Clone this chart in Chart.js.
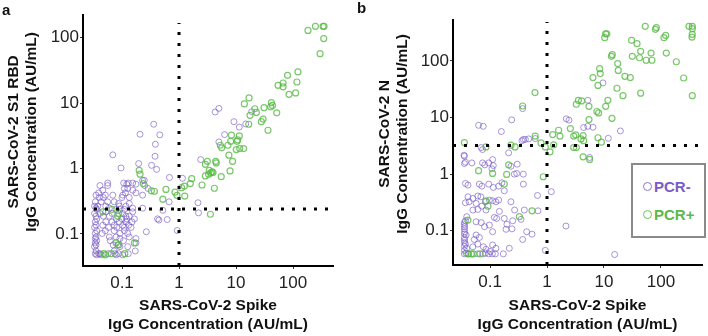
<!DOCTYPE html>
<html>
<head>
<meta charset="utf-8">
<script src="https://cdn.jsdelivr.net/npm/chart.js@4"></script>
<style>
  body { margin: 0; background: #fff; font-family: "Liberation Sans", Arial, sans-serif; }
  #wrap { position: relative; width: 708px; height: 336px; }
  .panel { position: absolute; top: 0; width: 354px; height: 336px; }
  .tag { position: absolute; font-weight: bold; font-size: 15px; line-height: 15px; color: #111; }
  #legend { position: absolute; left: 631px; top: 163px; width: 75px; height: 75px; box-sizing: border-box;
            border: 2px solid #8a8a8a; background: #fff; }
  .item { position: absolute; left: 10px; font-weight: bold; font-size: 15px; line-height: 16px; }
  .dot { display: inline-block; width: 7px; height: 7px; border-radius: 50%; border: 1.3px solid; margin-right: 2px; vertical-align: 1px; }
</style>
</head>
<body>
<div id="wrap">
  <div class="panel" style="left:0"><canvas id="chartA"></canvas></div>
  <div class="panel" style="left:354px"><canvas id="chartB"></canvas></div>
  <div class="tag" style="left:2px; top:2px">a</div>
  <div class="tag" style="left:357px; top:0px">b</div>
  <div id="legend">
    <div class="item" style="top:14px; color:#7a5cc6"><span class="dot" style="border-color:#8f78cf"></span>PCR-</div>
    <div class="item" style="top:42px; color:#5cb94a"><span class="dot" style="border-color:#6cc45a"></span>PCR+</div>
  </div>
</div>
<script>
Chart.defaults.font.family = '"Liberation Sans", Arial, sans-serif';
Chart.defaults.color = '#222';

var tickVals = [0.1, 1, 10, 100];

// panel a: Spike (x) vs S1 RBD (y)
var aNeg = [
  [4.3,7.3],[5.0,8.3],[18.8,7.4],[9.2,5.2],[11.4,4.3],[14.8,4.8],[6.3,3.3],[5.0,2.55],[2.4,1.37],[1.15,0.71],[2.15,0.30],[2.2,0.21],[0.93,0.113],
  [0.67,0.31],[0.52,0.23],[0.445,0.163],[0.62,0.166],[0.267,0.108],
  [0.36,4.75],[0.207,3.34],[0.46,3.27],[0.385,2.35],[0.069,1.62],[0.38,1.54],[0.196,1.19],[0.33,1.12],[0.096,1.02],[0.405,0.97],[0.68,0.73],
  [0.23,0.66],[0.246,0.66],[0.056,0.60],[0.107,0.60],[0.129,0.60],[0.154,0.60],[0.121,0.577],[0.176,0.577],
  [0.041,0.55],[0.056,0.55],[0.25,0.55],[0.11,0.495],[0.126,0.495],[0.286,0.495],[0.046,0.467],[0.154,0.467],
  [0.039,0.425],[0.115,0.425],[0.176,0.425],[0.035,0.392],[0.051,0.392],[0.069,0.392],[0.103,0.392],[0.23,0.392],
  [0.04,0.361],[0.047,0.361],[0.1,0.361],[0.134,0.361],[0.034,0.31],[0.043,0.31],[0.056,0.31],[0.073,0.31],
  [0.087,0.292],[0.134,0.292],[0.033,0.266],[0.0375,0.266],[0.052,0.266],[0.09,0.266],[0.117,0.266],
  [0.035,0.248],[0.06,0.248],[0.154,0.248],[0.23,0.248],[0.036,0.237],[0.079,0.237],[0.092,0.237],[0.11,0.237],
  [0.052,0.218],[0.154,0.218],[0.033,0.206],[0.041,0.206],[0.067,0.206],[0.103,0.206],
  [0.035,0.187],[0.047,0.187],[0.06,0.187],[0.117,0.187],[0.134,0.187],
  [0.036,0.17],[0.079,0.17],[0.1,0.17],[0.121,0.17],[0.165,0.17],[0.42,0.17],
  [0.034,0.153],[0.052,0.153],[0.067,0.153],[0.09,0.153],[0.117,0.153],[0.15,0.153],
  [0.035,0.136],[0.046,0.136],[0.073,0.136],[0.103,0.136],[0.131,0.136],
  [0.033,0.126],[0.058,0.126],[0.081,0.126],[0.11,0.126],[0.144,0.126],
  [0.036,0.112],[0.051,0.112],[0.073,0.112],[0.11,0.112],[0.034,0.102],[0.045,0.102],[0.092,0.102],[0.126,0.102],
  [0.035,0.09],[0.06,0.09],[0.079,0.09],[0.134,0.09],[0.034,0.085],[0.092,0.085],[0.176,0.085],
  [0.036,0.079],[0.062,0.079],[0.106,0.079],[0.034,0.073],[0.176,0.073],[0.035,0.068],[0.07,0.068],[0.084,0.068],
  [0.033,0.064],[0.092,0.064],[0.126,0.064],[0.035,0.055],[0.073,0.055],[0.171,0.055],
  [0.034,0.05],[0.039,0.05],[0.041,0.05],[0.057,0.05],[0.075,0.05],[0.087,0.05],[0.129,0.05],
  [0.036,0.048],[0.043,0.048],[0.079,0.048],[0.103,0.048]
];
var aPos = [
  [183,129],[247,149],[336,149],[350,149],[345,97],[298,57],[122,30],[80,26.6],[54.6,18.7],[66.8,20.3],[66.8,17.7],[117,21],
  [85,13.6],[111,14.3],[16.9,12],[14,9.7],[21.3,8.2],[22.7,7.2],[17.6,6.5],[31,8.5],[41.7,10.2],[43.4,9.2],[40.5,8.8],[51.7,7.1],
  [27.8,5.2],[29.8,5.7],[36.4,3.85],[16.7,4.75],[8.3,3.23],[11.4,3.15],[8.06,2.61],[10.4,2.61],[10.7,2.74],[5.3,2.27],[5.6,2.07],
  [7.2,2.27],[11.6,2.02],[13.6,2.02],[10.1,1.95],[7.5,1.6],[8.7,1.29],[7.85,0.92],[3.14,1.29],[4.4,1.29],[4.5,1.22],[2.9,1.16],
  [3.4,0.94],[3.8,0.89],[3.95,0.87],[3.64,0.86],[2.9,0.77],[3.3,0.82],[5.5,0.75],[4.17,0.5],[2.53,0.56],[1.67,0.7],[1.58,0.59],
  [1.24,0.54],[1.11,0.51],[0.85,0.435],[0.92,0.39],[1.26,0.38],[3.55,0.2],
  [0.2,0.94],[0.207,0.82],[0.327,0.456],[0.37,0.45],[0.59,0.48],[0.52,0.34],[0.236,0.59],
  [0.067,0.237],[0.046,0.218],[0.0875,0.206],[0.084,0.187],[0.079,0.073],[0.165,0.073],[0.0875,0.068],
  [0.048,0.05],[0.065,0.05],[0.112,0.05],[0.051,0.048]
];
var aCutX = 1, aCutY = 0.24;

// panel b: Spike (x) vs N (y)
var bNeg = [
  [9.6,41],[2.18,9.5],[2.43,9.0],[4.4,6.67],[5.2,7.0],[6.4,6.75],[19.4,5.8],[11.9,4.3],[5.6,1.97],[5.2,20.2],
  [0.374,14.4],[0.24,9.1],[0.063,7.3],[0.076,7.0],[0.158,5.66],[0.62,4.26],[0.385,4.1],[0.417,4.1],[0.364,3.9],[0.477,4.2],
  [0.07,2.95],[0.074,2.72],[0.212,2.38],[0.035,2.16],[2.15,0.121],[15.4,0.038],[1.19,0.49],[0.695,0.225],[0.935,0.045],[0.68,0.42],
  [0.0355,2.08],[0.111,1.81],[0.0355,1.54],[0.037,1.63],[0.048,1.58],[0.074,1.58],[0.095,1.58],[0.081,1.46],[0.114,1.42],
  [0.233,1.38],[0.30,1.5],[0.267,1.0],[0.294,1.03],[0.384,1.0],[0.108,1.24],
  [0.037,0.685],[0.041,0.64],[0.065,0.666],[0.072,0.614],[0.095,0.666],[0.114,0.582],[0.142,0.614],[0.162,0.703],[0.178,0.508],[0.384,0.666],
  [0.041,0.398],[0.05,0.372],[0.061,0.41],[0.069,0.398],[0.083,0.325],[0.0975,0.348],[0.111,0.338],[0.127,0.325],[0.142,0.348],
  [0.043,0.325],[0.037,0.312],[0.057,0.304],[0.072,0.272],[0.233,0.325],[0.27,0.232],[0.40,0.232],[0.146,0.22],[0.05,0.232],[0.061,0.238],[0.085,0.232],
  [0.039,0.177],[0.037,0.15],[0.119,0.172],[0.131,0.165],[0.178,0.165],[0.35,0.159],[0.198,0.13],[0.25,0.15],[0.057,0.144],[0.07,0.139],
  [0.08,0.118],[0.0975,0.126],[0.0358,0.118],[0.0358,0.096],[0.038,0.084],[0.057,0.084],[0.053,0.07],[0.065,0.076],[0.111,0.096],
  [0.191,0.106],[0.243,0.108],[0.44,0.096],[0.546,0.087],[0.374,0.07],
  [0.0358,0.068],[0.037,0.058],[0.039,0.049],[0.05,0.052],[0.061,0.058],[0.0765,0.052],[0.085,0.047],[0.111,0.056],[0.127,0.049],
  [0.218,0.049],[0.171,0.039],[0.038,0.04],[0.083,0.04],[0.1,0.043],[0.124,0.039],
  [0.0355,0.14],[0.0355,0.128],[0.0355,0.108],[0.0355,0.088],[0.0355,0.075],[0.0355,0.062],[0.0355,0.053],[0.0355,0.045],[0.0355,0.039],
  [0.042,0.039],[0.06,0.039],[0.075,0.039],[0.095,0.039],[0.11,0.039]
];
var bPos = [
  [53,409],[83,390],[80,362],[310,409],[355,409],[355,372],[355,296],[350,265],[10.7,302],[11.2,302],[10.3,258],[121,283],[113,258],
  [30.5,232],[38,202],[44,148],[31.4,121],[42,114],[67,138],[124,138],[55,103],[69.5,103],[186,97],[14,129],[13.5,121],[17.4,90],
  [17.8,68],[8.4,73],[8.6,60],[6.4,51],[23.3,53.5],[29,51],[7.85,37],[250,50],[16.9,33],[44,27],[21.5,24.4],[355,24.4],[11.7,20.2],
  [10.7,15.8],[3.55,20.2],[4.05,19.7],[3.27,17.2],[5.45,15.8],[7.5,12.8],[8.05,12.1],[13.8,9.7],[5.45,9.2],[2.57,6.4],[3.18,4.95],
  [2.94,4.7],[4.3,4.8],[3.95,4.2],[4.4,3.9],[7.85,4.4],[9.0,3.67],[2.94,2.95],[3.27,2.95],[4.3,2.02],[5.6,1.82],
  [0.615,27.6],[0.374,16],[0.62,4.7],[1.26,5.0],[1.6,5.97],[1.69,4.7],[0.0355,3.62],[0.085,3.03],[0.233,3.25],[0.275,3.03],
  [0.785,3.57],[0.935,3.03],[1.31,3.3],[1.13,2.48],
  [0.212,1.46],[0.063,1.15],[0.111,1.03],[0.196,0.99],[0.86,0.9],[0.178,0.67],[0.085,0.338],[0.092,0.272],[0.546,0.225],[0.327,0.177],
  [0.041,0.154],[0.041,0.039],[0.047,0.039],[0.051,0.039],[0.067,0.039]
];
var bCutX = 1, bCutY = 3.2;

var purple = 'rgba(115,85,195,0.62)';
var green = 'rgba(85,185,65,0.78)';

function pts(arr) {
  return arr.map(function (p) { return { x: p[0], y: p[1] }; });
}

function dotted(data) {
  return {
    data: data,
    showLine: true,
    borderColor: '#000',
    borderWidth: 3,
    borderDash: [3, 8],
    pointRadius: 0,
    order: 0
  };
}

function makeChart(id, neg, pos, cutX, cutY, lim, box, yTitle) {
  var ctx = document.getElementById(id);
  return new Chart(ctx, {
    type: 'scatter',
    data: {
      datasets: [
        dotted([{ x: cutX, y: lim.ymin }, { x: cutX, y: lim.vTop }]),
        dotted([{ x: lim.xmin, y: cutY }, { x: lim.hEnd, y: cutY }]),
        {
          label: 'PCR+',
          data: pts(pos),
          borderColor: green,
          backgroundColor: 'transparent',
          pointRadius: 3,
          borderWidth: 1.2,
          order: 2
        },
        {
          label: 'PCR-',
          data: pts(neg),
          borderColor: purple,
          backgroundColor: 'transparent',
          pointRadius: 3,
          borderWidth: 1,
          order: 3
        }
      ]
    },
    options: {
      responsive: true,
      maintainAspectRatio: false,
      animation: false,
      layout: {
        padding: { left: 0, right: box.right, top: box.top, bottom: 0 }
      },
      plugins: {
        legend: { display: false },
        tooltip: { enabled: false }
      },
      scales: {
        x: {
          type: 'logarithmic',
          min: lim.xmin,
          max: lim.xmax,
          afterBuildTicks: function (s) { s.ticks = tickVals.map(function (v) { return { value: v }; }); },
          afterFit: function (s) { s.height = box.xh; },
          ticks: {
            font: { size: 17 },
            padding: 4,
            autoSkip: false,
            maxRotation: 0,
            callback: function (v) { return String(v); }
          },
          grid: { display: true, drawOnChartArea: false, tickLength: 3, color: '#333' },
          border: { display: true, color: '#000', width: 2 },
          title: {
            display: true,
            text: ['SARS-CoV-2 Spike', 'IgG Concentration (AU/mL)'],
            font: { size: 15.5, weight: 'bold', lineHeight: 1.2 },
            color: '#111',
            padding: { top: 0, bottom: 2 }
          }
        },
        y: {
          type: 'logarithmic',
          min: lim.ymin,
          max: lim.ymax,
          afterBuildTicks: function (s) { s.ticks = tickVals.map(function (v) { return { value: v }; }); },
          afterFit: function (s) { s.width = box.yw; },
          ticks: {
            font: { size: 17 },
            padding: 1,
            autoSkip: false,
            callback: function (v) { return String(v); }
          },
          grid: { display: true, drawOnChartArea: false, tickLength: 3, color: '#333' },
          border: { display: true, color: '#000', width: 2 },
          title: {
            display: true,
            // leading spaces nudge the rotated title up a little, as in the original
            text: yTitle.map(function (t) { return '    ' + t; }),
            font: { size: 15.5, weight: 'bold', lineHeight: 1.2 },
            color: '#111',
            padding: { top: box.ytp, bottom: 0 }
          }
        }
      }
    }
  });
}

makeChart('chartA', aNeg, aPos, aCutX, aCutY,
  { xmin: 0.0207, xmax: 502, ymin: 0.0324, ymax: 222, vTop: 168, hEnd: 411 },
  { right: 21, top: 15, xh: 70, yw: 83, ytp: 4 },
  ['SARS-CoV-2 S1 RBD', 'IgG Concentration (AU/mL)']);

makeChart('chartB', bNeg, bPos, bCutX, bCutY,
  { xmin: 0.0224, xmax: 525, ymin: 0.0248, ymax: 530, vTop: 490, hEnd: 525 },
  { right: 6, top: 20, xh: 71, yw: 99, ytp: 21 },
  ['SARS-CoV-2 N', 'IgG Concentration (AU/mL)']);
</script>
</body>
</html>
